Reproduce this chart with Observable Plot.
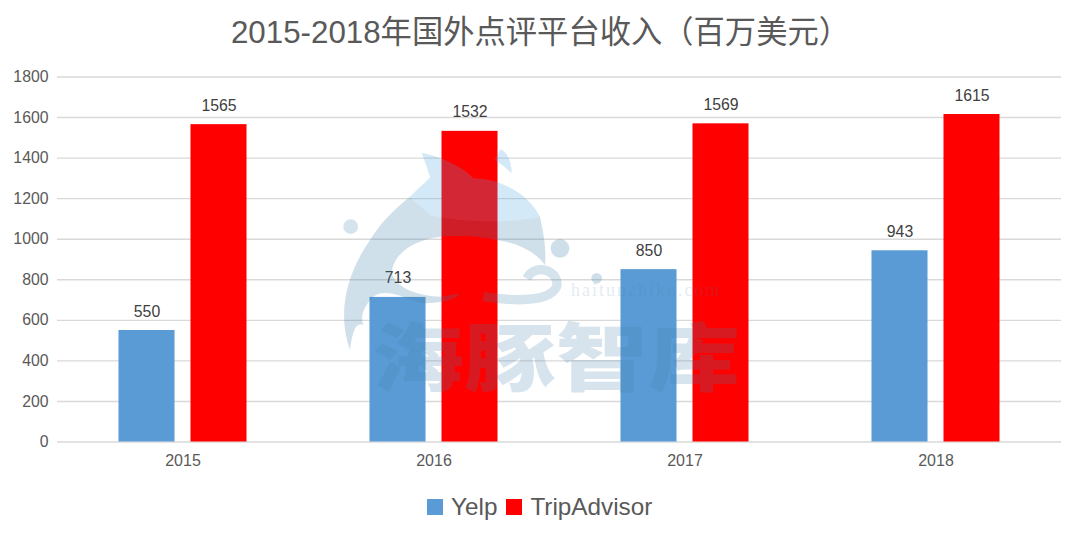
<!DOCTYPE html>
<html><head><meta charset="utf-8">
<script src="https://cdn.jsdelivr.net/npm/d3@7"></script>
<script src="https://cdn.jsdelivr.net/npm/@observablehq/plot@0.6"></script>
<style>
html,body{margin:0;padding:0;background:#fff;width:1080px;height:537px;overflow:hidden}
body{position:relative;font-family:"Liberation Sans","Noto Sans CJK SC",sans-serif}
#title{height:60px;line-height:66px;text-align:center;font-size:31.3px;color:#595959;white-space:nowrap;padding-left:1px;box-sizing:border-box}
#legend{position:absolute;left:427px;top:490px;height:34px;display:flex;align-items:center;font-size:24.3px;color:#595959}
#legend i{display:inline-block;width:16px;height:16px;margin-right:8px}
#legend span{margin-right:9px}
.wm{position:absolute;pointer-events:none;white-space:nowrap}
#dolphin{position:absolute;left:0;top:0;pointer-events:none}
</style></head><body>
<div id="title"></div>
<div id="chart"></div>
<div id="legend"></div>
<svg id="dolphin" width="1080" height="537" viewBox="0 0 1080 537">
  <g transform="translate(330,140) scale(0.3333)">
    <path fill="#4aa3dc" opacity=".24" d="M240,170 C280,130 300,115 300,110 C290,80 280,50 275,38 C330,50 400,80 430,115 C520,115 600,170 630,230 C540,250 400,250 300,225 Z"/>
    <path fill="#3b7ea8" opacity=".24" d="M60,630 C20,520 50,400 120,300 C150,250 190,210 240,170 L300,225 C400,250 540,250 630,230 C640,280 650,320 645,375 C620,340 570,310 500,300 C450,290 400,285 330,290 C250,300 190,340 185,400 C200,450 280,470 330,470 L390,460 C380,480 330,490 280,490 C230,480 170,440 130,470 C100,500 90,530 100,555 C80,550 70,560 60,630 Z"/>
    <path fill="#4aa3dc" opacity=".24" d="M510,28 C535,35 545,70 545,100 C530,85 510,70 495,60 Z"/>
    <circle cx="690" cy="325" r="28" fill="#3b7ea8" opacity=".25"/>
    <circle cx="800" cy="415" r="16" fill="#3b7ea8" opacity=".25"/>
    <circle cx="62" cy="260" r="22" fill="#3b7ea8" opacity=".22"/>
    <path fill="none" stroke="#3b7ea8" stroke-width="28" opacity=".22" d="M590,415 C620,365 690,395 680,440 C660,485 560,485 460,470"/>
  </g>
</svg>
<div class="wm" id="wm1" style="left:372px;top:307px;line-height:92px;font-size:92px;font-weight:900;color:#3b7ea8;opacity:.2;font-family:'Noto Sans CJK SC';transform:scaleY(.8);transform-origin:center"></div>
<div class="wm" id="wm2" style="left:571px;top:280px;font-size:18px;color:#3b7ea8;opacity:.14;letter-spacing:2px;font-family:'Liberation Serif'"></div>
<script>
const titleText = "2015-2018年国外点评平台收入（百万美元）";
const years = ["2015","2016","2017","2018"];
const seriesNames = ["Yelp","TripAdvisor"];
const yelpValues = [550,713,850,943];
const tripAdvisorValues = [1565,1532,1569,1615];
const colors = ["#5b9bd5","#ff0000"];
const yTicks = [0,200,400,600,800,1000,1200,1400,1600,1800];
const watermark = "海豚智库";
const watermarkUrl = "haitunzhiku.com";

const rows = years.flatMap((year,i)=>[
  {year,series:seriesNames[0],value:yelpValues[i]},
  {year,series:seriesNames[1],value:tripAdvisorValues[i]}
]);

document.getElementById("title").textContent = titleText;
document.getElementById("wm1").textContent = watermark;
document.getElementById("wm2").textContent = watermarkUrl;
document.getElementById("legend").innerHTML = seriesNames.map((s,i)=>`<i style="background:${colors[i]}"></i><span>${s}</span>`).join("");

const plot = Plot.plot({
  width:1080,height:420,
  marginLeft:57,marginRight:19,marginTop:16.5,marginBottom:38.5,
  style:{fontFamily:"Liberation Sans, sans-serif",background:"transparent"},
  fx:{domain:years,padding:0,label:null,axis:null},
  x:{domain:seriesNames,paddingInner:0.222,paddingOuter:0.854,align:0.5,round:false,axis:null,label:null},
  y:{domain:[0,1800],label:null,axis:null},
  color:{domain:seriesNames,range:colors},
  marks:[
    Plot.ruleY(yTicks,{stroke:"#d9d9d9",strokeWidth:1.4}),
    Plot.axisY({ticks:yTicks,tickFormat:d=>String(d),tickSize:0,tickPadding:9,fontSize:15.8,color:"#595959",label:null,anchor:"left"}),
    Plot.barY(rows,{fx:"year",x:"series",y:"value",fill:"series"}),
    Plot.text(rows,{fx:"year",x:"series",y:"value",text:d=>String(d.value),dy:-19,fontSize:15.8,fill:"#404040"}),
    Plot.axisFx({domain:years,anchor:"bottom",tickSize:0,tickPadding:13,fontSize:16,color:"#595959",label:null})
  ]
});
document.getElementById("chart").appendChild(plot);
</script>
</body></html>
